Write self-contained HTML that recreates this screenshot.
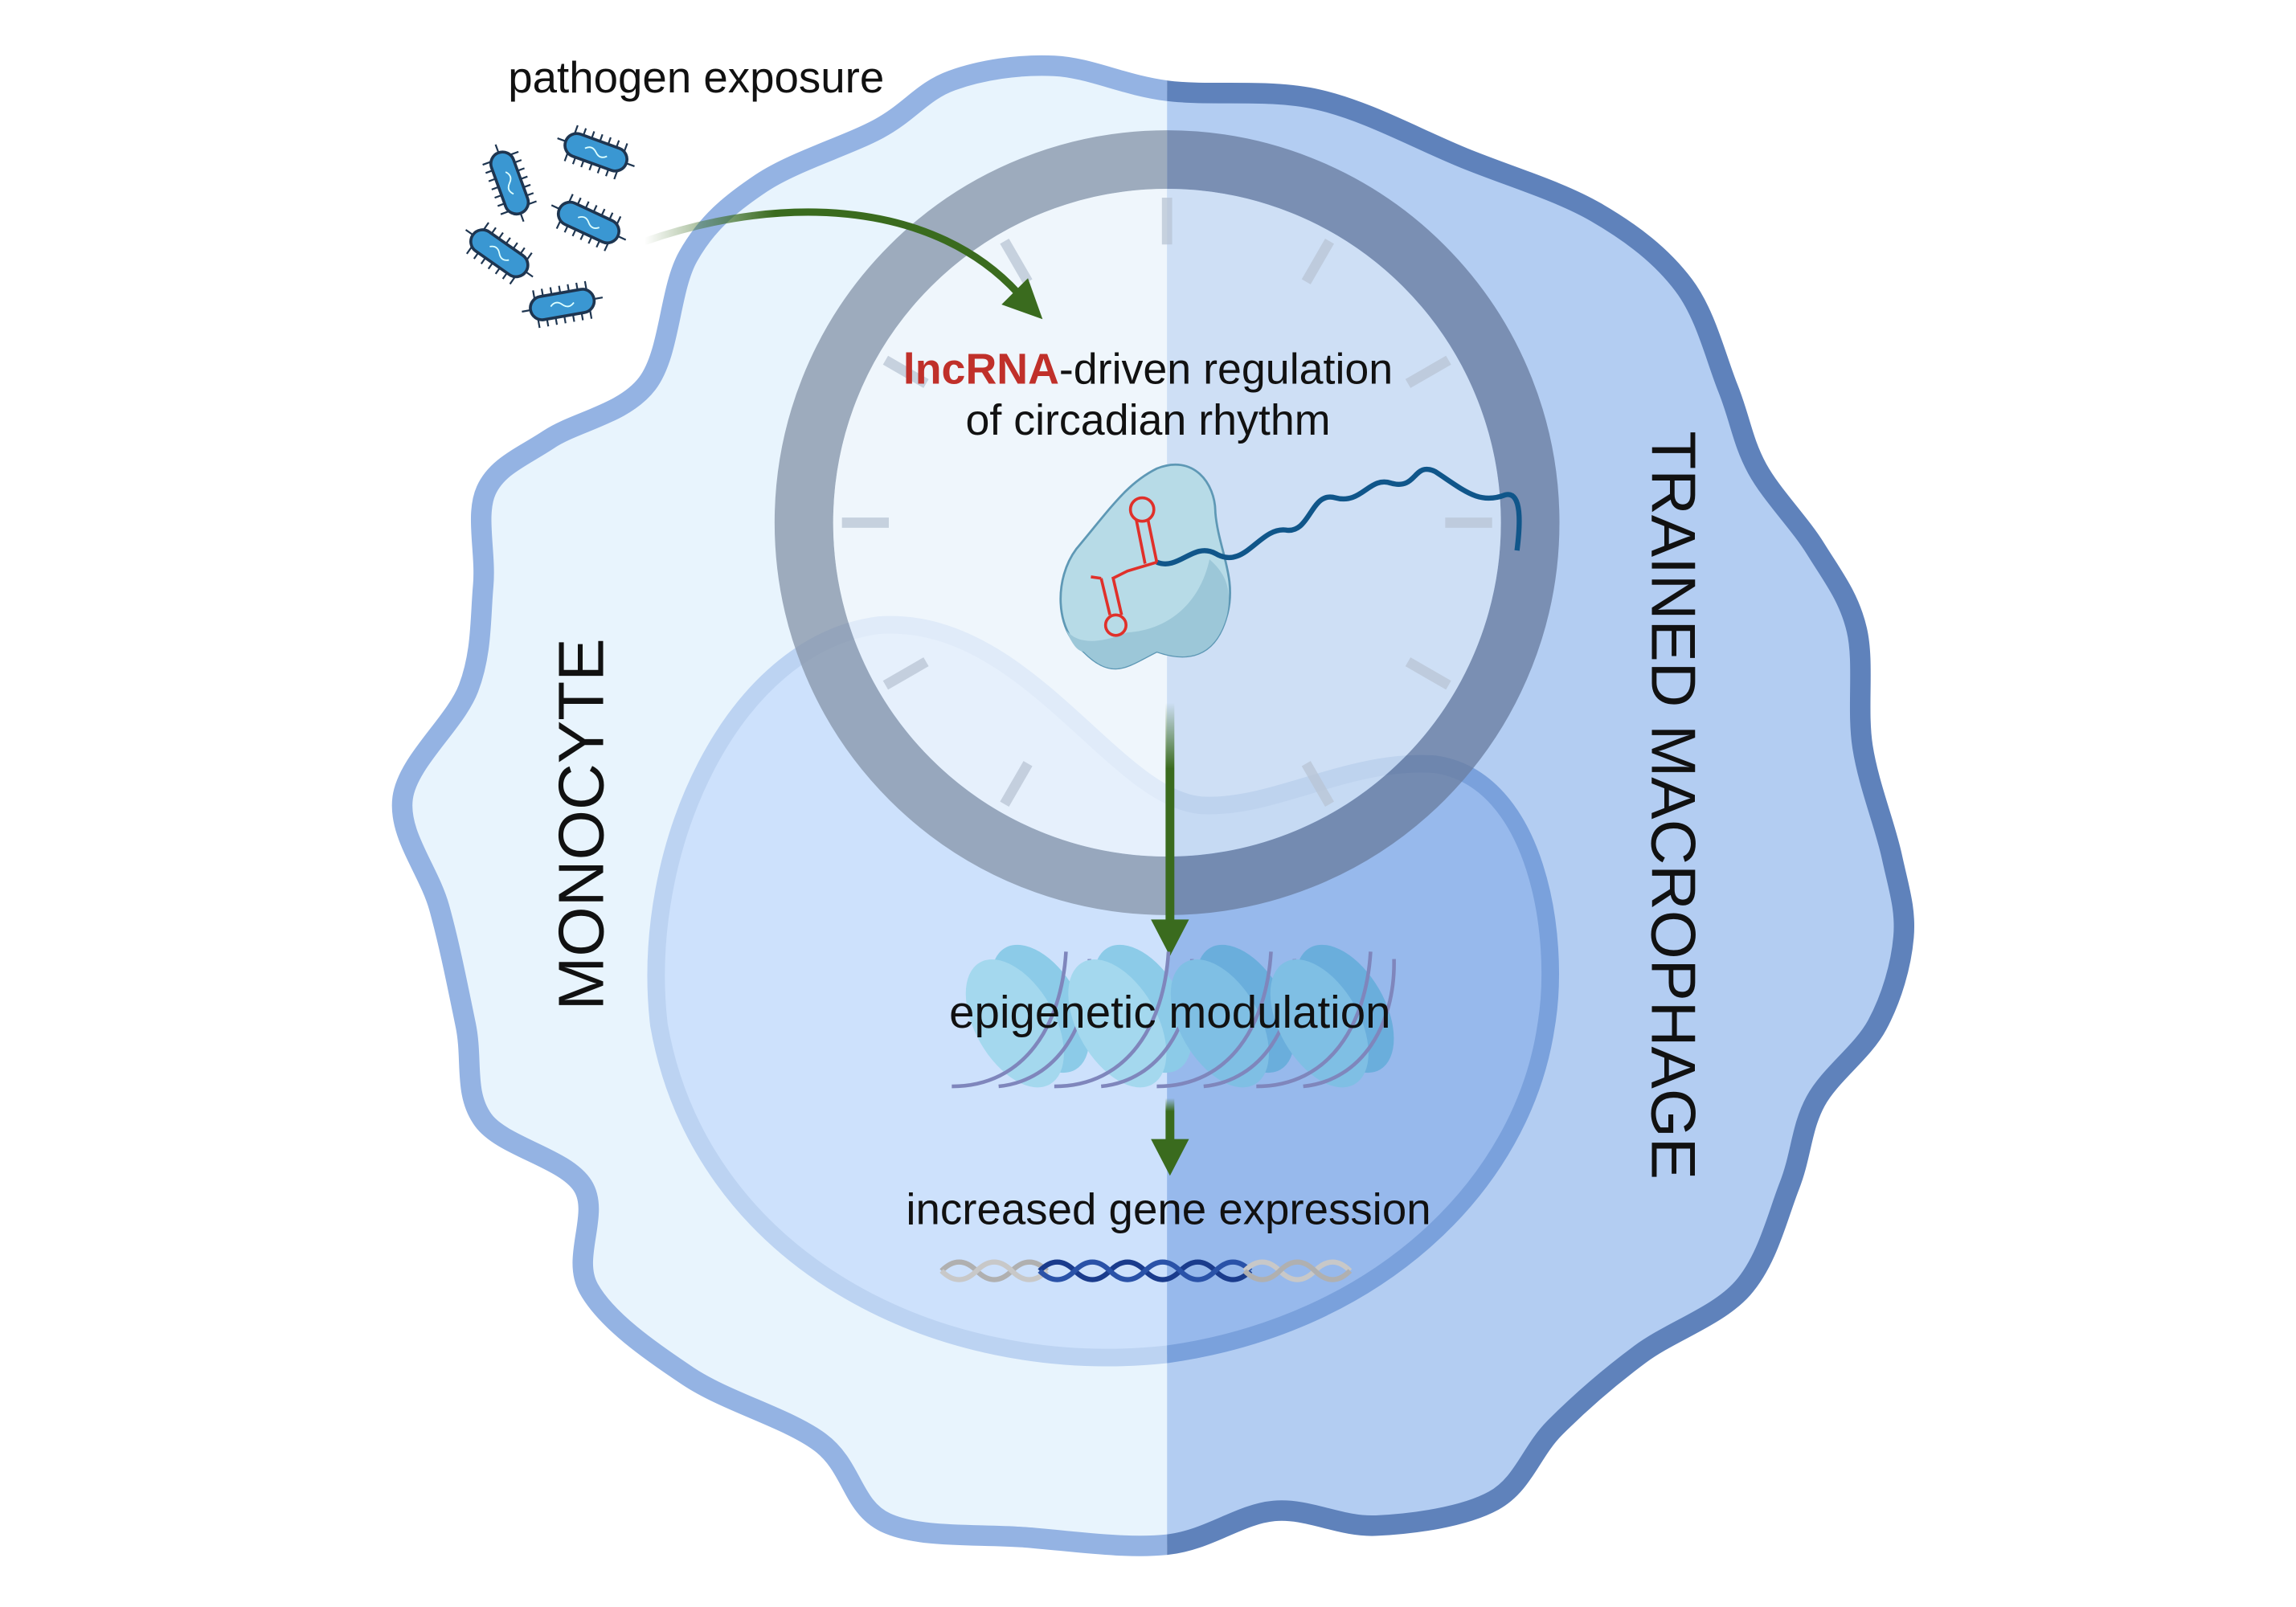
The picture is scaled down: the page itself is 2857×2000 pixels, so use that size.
<!DOCTYPE html>
<html><head><meta charset="utf-8"><style>
html,body{margin:0;padding:0;background:#fff}
svg{display:block}
text{font-family:"Liberation Sans",sans-serif}
</style></head><body>
<svg id="s" width="2857" height="2000" viewBox="0 0 1568 1097.6" preserveAspectRatio="none" xmlns="http://www.w3.org/2000/svg">
<defs>
<clipPath id="L"><rect x="0" y="0" width="797" height="1100"/></clipPath>
<clipPath id="R"><rect x="797" y="0" width="800" height="1100"/></clipPath>
<linearGradient id="ag" x1="0" y1="0" x2="0" y2="1"><stop offset="0" stop-color="#3a6b1e" stop-opacity="0"/><stop offset="0.3" stop-color="#3a6b1e"/></linearGradient>
<linearGradient id="cg" x1="0" y1="0" x2="1" y2="0"><stop offset="0" stop-color="#3a6b1e" stop-opacity="0"/><stop offset="0.35" stop-color="#3a6b1e"/></linearGradient>
</defs>
<rect width="1568" height="1098" fill="#fff"/>
<g clip-path="url(#L)"><path class="cell" d="" fill="#e8f4fd" stroke="#94b3e3" stroke-width="14"/></g>
<g clip-path="url(#R)"><path class="cell" d="" fill="#b3cdf2" stroke="#5f82bb" stroke-width="14"/></g>
<g clip-path="url(#L)"><path class="nucl" d="M600 427 C700 420 760 545 820 550 C870 553 920 518 980 522 C1050 532 1066 640 1056 700 C1040 810 940 905 797 925 C640 942 478 860 450 700 C436 580 500 440 600 427Z" fill="#cde1fc" stroke="#bcd3f2" stroke-width="12"/></g>
<g clip-path="url(#R)"><path class="nucl" d="M600 427 C700 420 760 545 820 550 C870 553 920 518 980 522 C1050 532 1066 640 1056 700 C1040 810 940 905 797 925 C640 942 478 860 450 700 C436 580 500 440 600 427Z" fill="#97b9ec" stroke="#7aa1dc" stroke-width="12"/></g>
<g clip-path="url(#L)">
<circle cx="797" cy="357" r="248" fill="none" stroke="#8a98ad" stroke-opacity="0.8" stroke-width="40"/>
<circle cx="797" cy="357" r="228" fill="#f3f8fc" fill-opacity="0.65"/>
</g>
<g clip-path="url(#R)">
<circle cx="797" cy="357" r="248" fill="none" stroke="#6b7fa3" stroke-opacity="0.8" stroke-width="40"/>
<circle cx="797" cy="357" r="228" fill="#d8e6f5" fill-opacity="0.72"/>
</g>
<g id="ticks" stroke="#b8c4d4" stroke-width="7" stroke-opacity="0.75"></g>
<text x="347" y="63" font-size="30" fill="#111">pathogen exposure</text>
<text x="784" y="262" font-size="29.5" fill="#111" text-anchor="middle"><tspan fill="#c0302a" font-weight="bold">lncRNA</tspan>-driven regulation</text>
<text x="784" y="297" font-size="29.5" fill="#111" text-anchor="middle">of circadian rhythm</text>
<text transform="translate(412,563) rotate(-90)" font-size="44" fill="#111" text-anchor="middle">MONOCYTE</text>
<text transform="translate(1128,550) rotate(90)" font-size="43" fill="#111" text-anchor="middle">TRAINED MACROPHAGE</text>
<path d="M735 375 C760 345 770 330 790 320 C815 310 830 330 830 350 C832 375 845 395 838 420 C830 450 810 452 790 445 C770 455 760 465 740 445 C720 430 720 395 735 375Z" fill="#b7dbe7" stroke="#5e98b5" stroke-width="1.5"/>
<path d="M790 445 C810 452 830 450 838 420 C842 400 835 390 826 382 C820 410 800 430 770 432 C750 440 735 440 728 430 C732 440 736 445 740 445 C760 465 770 455 790 445Z" fill="#9cc7d8"/>
<path d="M790 384 C805 390 815 370 830 378 C850 390 860 360 878 362 C895 365 895 335 912 340 C930 345 935 325 950 330 C968 335 965 315 980 322 C1000 335 1010 345 1028 338 C1040 335 1038 360 1036 376" fill="none" stroke="#10568a" stroke-width="3.5"/>
<g fill="none" stroke="#e0302a" stroke-width="2">
<circle cx="780" cy="348" r="8"/><path d="M776 355 L782 385 M784 355 L790 384 M790 384 L770 390 L760 395"/>
<circle cx="762" cy="427" r="7"/><path d="M758 420 L752 395 M766 420 L760 394 M745 394 L752 395"/>
</g>
<path d="M440 165 C540 130 640 140 695 200" fill="none" stroke="url(#cg)" stroke-width="5"/>
<polygon points="712,218 684,208 702,190" fill="#3a6b1e"/>
<rect x="796" y="480" width="6" height="150" fill="url(#ag)"/>
<polygon points="786,628 812,628 799,653" fill="#3a6b1e"/>
<rect x="796" y="750" width="6" height="30" fill="url(#ag)"/>
<polygon points="786,778 812,778 799,803" fill="#3a6b1e"/>
<g id="nuc"></g>
<text x="799" y="702" font-size="31" fill="#111" text-anchor="middle">epigenetic modulation</text>
<text x="798" y="836" font-size="30" fill="#111" text-anchor="middle">increased gene expression</text>
<g fill="none" stroke-width="3.5">
<path d="M643 868 q12 -12 24 0 q12 12 24 0 q12 -12 24 0" stroke="#b0b0b0"/><path d="M643 868 q12 12 24 0 q12 -12 24 0 q12 12 24 0" stroke="#c8c8c8"/>
<path d="M710 868 q12 -12 24 0 q12 12 24 0 q12 -12 24 0 q12 12 24 0 q12 -12 24 0 q12 12 24 0" stroke="#1a3b8c"/><path d="M710 868 q12 12 24 0 q12 -12 24 0 q12 12 24 0 q12 -12 24 0 q12 12 24 0 q12 -12 24 0" stroke="#2a52a8"/>
<path d="M850 868 q12 -12 24 0 q12 12 24 0 q12 -12 24 0" stroke="#c8c8c8"/><path d="M850 868 q12 12 24 0 q12 -12 24 0 q12 12 24 0" stroke="#b0b0b0"/>
</g>
<g id="bac"></g>
</svg>
<script>
(function(){
var NS="http://www.w3.org/2000/svg";
function el(parent,tag,attrs){var e=document.createElementNS(NS,tag);for(var k in attrs)e.setAttribute(k,attrs[k]);parent.appendChild(e);return e;}
var P=[[797,62],[900,68],[1000,108],[1090,145],[1150,195],[1180,265],[1200,320],[1240,375],[1268,430],[1272,510],[1292,585],[1300,640],[1282,700],[1240,752],[1222,810],[1190,880],[1120,925],[1062,975],[1020,1025],[940,1042],[870,1032],[797,1055],[700,1050],[605,1040],[560,985],[470,940],[402,880],[398,810],[330,765],[318,700],[300,620],[275,545],[320,470],[330,400],[332,335],[375,300],[442,262],[470,175],[520,125],[600,88],[650,55],[720,45]];
var n=P.length,d="M"+P[0][0]+" "+P[0][1];
for(var i=0;i!==n;i++){var p0=P[(i-1+n)%n],p1=P[i],p2=P[(i+1)%n],p3=P[(i+2)%n];
d+=" C"+(p1[0]+(p2[0]-p0[0])/6)+" "+(p1[1]+(p2[1]-p0[1])/6)+" "+(p2[0]-(p3[0]-p1[0])/6)+" "+(p2[1]-(p3[1]-p1[1])/6)+" "+p2[0]+" "+p2[1];}
d+="Z";
var cs=document.querySelectorAll(".cell");for(var j=0;j!==cs.length;j++)cs[j].setAttribute("d",d);
var t=document.getElementById("ticks");
for(var i=0;i!==12;i++){if(i===6)continue;var a=i*Math.PI/6,c=Math.cos(a),s=Math.sin(a);var r1=190,r2=222;
el(t,"line",{x1:797+s*r1,y1:357-c*r1,x2:797+s*r2,y2:357-c*r2});}
var nu=document.getElementById("nuc");var xs=[700,770,840,908],cols=["#8ccbe8","#8ccbe8","#6aaedc","#6aaedc"],fr=["#a4d8ee","#a4d8ee","#7fbfe4","#7fbfe4"];
for(var i=0;i!==4;i++){var x=xs[i];var g=el(nu,"g",{transform:"rotate(-30 "+x+" 695)"});
el(g,"ellipse",{cx:x+12,cy:695,rx:27,ry:48,fill:cols[i]});
el(g,"ellipse",{cx:x-8,cy:695,rx:27,ry:48,fill:fr[i]});
el(nu,"path",{d:"M"+(x-50)+" 742 C"+x+" 742 "+(x+25)+" 700 "+(x+28)+" 650 M"+(x-18)+" 742 C"+(x+22)+" 738 "+(x+45)+" 700 "+(x+44)+" 655",fill:"none",stroke:"#7f86bc","stroke-width":2.5});}
var b=document.getElementById("bac");var B=[[348,125,70],[407,104,20],[402,152,25],[341,173,35],[384,208,-10]];
for(var q=0;q!==B.length;q++){var Q=B[q];var g=el(b,"g",{transform:"translate("+Q[0]+" "+Q[1]+") rotate("+Q[2]+")"});
for(var k=-3;k!==4;k++)el(g,"line",{x1:k*6,y1:-13,x2:k*6,y2:13,stroke:"#1e3550","stroke-width":1.2});
el(g,"line",{x1:-28,y1:0,x2:28,y2:0,stroke:"#1e3550","stroke-width":1.2});
el(g,"rect",{x:-22,y:-8,width:44,height:16,rx:8,fill:"#3a97d2",stroke:"#1e3550","stroke-width":2});
el(g,"path",{d:"M-8 0 q4 -4 8 0 q4 4 8 0",fill:"none",stroke:"#dff","stroke-width":1});}
})();
</script>
</body></html>
